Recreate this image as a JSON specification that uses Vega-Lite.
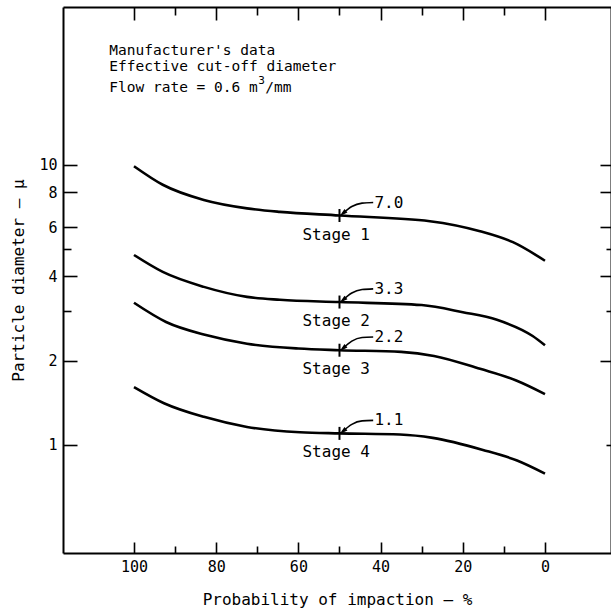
{
  "$schema": "https://vega.github.io/schema/vega-lite/v6.json",
  "width": 548,
  "height": 546,
  "autosize": {"type": "none"},
  "padding": {"left": 63, "top": 7, "right": 0, "bottom": 57},
  "background": "white",
  "config": {
    "view": {"stroke": null},
    "font": "DejaVu Sans Mono",
    "axis": {
      "grid": false,
      "domainColor": "#000",
      "tickColor": "#000",
      "labelColor": "#000",
      "titleColor": "#000",
      "labelFont": "DejaVu Sans Mono",
      "titleFont": "DejaVu Sans Mono",
      "labelFontSize": 15,
      "titleFontSize": 16,
      "titleFontWeight": "normal",
      "domainWidth": 2,
      "tickWidth": 1.6
    }
  },
  "datasets": {
    "curves": [
      {"stage": "Stage 1", "p": 100, "v": 9.9},
      {"stage": "Stage 1", "p": 93, "v": 8.5},
      {"stage": "Stage 1", "p": 83, "v": 7.5},
      {"stage": "Stage 1", "p": 72.5, "v": 7.0},
      {"stage": "Stage 1", "p": 64.5, "v": 6.8},
      {"stage": "Stage 1", "p": 50, "v": 6.6},
      {"stage": "Stage 1", "p": 28, "v": 6.3},
      {"stage": "Stage 1", "p": 15.8, "v": 5.8},
      {"stage": "Stage 1", "p": 7.8, "v": 5.3},
      {"stage": "Stage 1", "p": 0, "v": 4.55},
      {"stage": "Stage 2", "p": 100, "v": 4.77},
      {"stage": "Stage 2", "p": 93, "v": 4.15},
      {"stage": "Stage 2", "p": 83, "v": 3.67},
      {"stage": "Stage 2", "p": 72.5, "v": 3.38},
      {"stage": "Stage 2", "p": 64.5, "v": 3.3},
      {"stage": "Stage 2", "p": 50, "v": 3.24},
      {"stage": "Stage 2", "p": 30, "v": 3.16},
      {"stage": "Stage 2", "p": 20, "v": 2.98},
      {"stage": "Stage 2", "p": 11.7, "v": 2.8},
      {"stage": "Stage 2", "p": 3, "v": 2.45},
      {"stage": "Stage 2", "p": 0, "v": 2.27},
      {"stage": "Stage 3", "p": 100, "v": 3.22},
      {"stage": "Stage 3", "p": 92.2, "v": 2.75},
      {"stage": "Stage 3", "p": 82.5, "v": 2.47},
      {"stage": "Stage 3", "p": 72.5, "v": 2.3},
      {"stage": "Stage 3", "p": 60, "v": 2.21},
      {"stage": "Stage 3", "p": 50, "v": 2.18},
      {"stage": "Stage 3", "p": 35, "v": 2.15},
      {"stage": "Stage 3", "p": 27, "v": 2.08},
      {"stage": "Stage 3", "p": 15.8, "v": 1.87},
      {"stage": "Stage 3", "p": 7, "v": 1.7},
      {"stage": "Stage 3", "p": 0, "v": 1.52},
      {"stage": "Stage 4", "p": 100, "v": 1.61},
      {"stage": "Stage 4", "p": 92.7, "v": 1.41},
      {"stage": "Stage 4", "p": 83, "v": 1.26},
      {"stage": "Stage 4", "p": 72.5, "v": 1.16},
      {"stage": "Stage 4", "p": 59.6, "v": 1.11},
      {"stage": "Stage 4", "p": 50, "v": 1.1},
      {"stage": "Stage 4", "p": 35.3, "v": 1.09},
      {"stage": "Stage 4", "p": 27.3, "v": 1.06},
      {"stage": "Stage 4", "p": 15.1, "v": 0.96},
      {"stage": "Stage 4", "p": 6.8, "v": 0.88},
      {"stage": "Stage 4", "p": 0, "v": 0.79}
    ],
    "stages": [
      {"stage": "Stage 1", "cut": "7.0", "p": 50, "v": 6.6},
      {"stage": "Stage 2", "cut": "3.3", "p": 50, "v": 3.24},
      {"stage": "Stage 3", "cut": "2.2", "p": 50, "v": 2.18},
      {"stage": "Stage 4", "cut": "1.1", "p": 50, "v": 1.1}
    ],
    "arrows": [
      {"stage": "Stage 1", "seg": 1, "p": 41.8, "v": 7.35},
      {"stage": "Stage 1", "seg": 2, "p": 44.5, "v": 7.31},
      {"stage": "Stage 1", "seg": 3, "p": 47, "v": 7.11},
      {"stage": "Stage 1", "seg": 4, "p": 49.2, "v": 6.71},
      {"stage": "Stage 2", "seg": 1, "p": 41.8, "v": 3.61},
      {"stage": "Stage 2", "seg": 2, "p": 44.5, "v": 3.59},
      {"stage": "Stage 2", "seg": 3, "p": 47, "v": 3.49},
      {"stage": "Stage 2", "seg": 4, "p": 49.2, "v": 3.29},
      {"stage": "Stage 3", "seg": 1, "p": 41.8, "v": 2.43},
      {"stage": "Stage 3", "seg": 2, "p": 44.5, "v": 2.42},
      {"stage": "Stage 3", "seg": 3, "p": 47, "v": 2.35},
      {"stage": "Stage 3", "seg": 4, "p": 49.2, "v": 2.21},
      {"stage": "Stage 4", "seg": 1, "p": 41.8, "v": 1.224},
      {"stage": "Stage 4", "seg": 2, "p": 44.5, "v": 1.219},
      {"stage": "Stage 4", "seg": 3, "p": 47, "v": 1.185},
      {"stage": "Stage 4", "seg": 4, "p": 49.2, "v": 1.118}
    ],
    "notes": [
      {"p": 106, "v": 25.5, "text": "Manufacturer's data"},
      {"p": 106, "v": 22.4, "text": "Effective cut-off diameter"}
    ],
    "flow": [
      {"p": 106, "v": 18.8}
    ]
  },
  "layer": [
    {
      "data": {"name": "curves"},
      "mark": {"type": "line", "interpolate": "monotone", "color": "#000", "strokeWidth": 2.6},
      "encoding": {
        "x": {"field": "p", "type": "quantitative",
          "scale": {"domain": [-16.06, 117.27], "reverse": true, "nice": false, "zero": false},
          "axis": {"orient": "bottom", "values": [0, 20, 40, 60, 80, 100], "ticks": false, "labelPadding": 6, "labelFlush": false,
            "title": "Probability of impaction — %", "titlePadding": 17}},
        "y": {"field": "v", "type": "quantitative",
          "scale": {"type": "log", "domain": [0.4113, 36.67], "nice": false},
          "axis": {"orient": "left", "values": [1, 2, 4, 6, 8, 10], "ticks": false, "labelPadding": 6, "labelExpr": "'' + datum.value", "labelFlush": false,
            "title": "Particle diameter — μ", "titlePadding": 12}},
        "detail": {"field": "stage"},
        "order": {"field": "p", "sort": "descending"}
      }
    },
    {
      "data": {"name": "curves"},
      "mark": {"type": "point", "opacity": 0},
      "encoding": {
        "x": {"field": "p", "type": "quantitative",
          "scale": {"domain": [-16.06, 117.27], "reverse": true, "nice": false, "zero": false},
          "axis": {"orient": "bottom", "values": [0, 20, 40, 60, 80, 100], "labels": false, "domain": false, "tickSize": -11, "title": null}},
        "y": {"field": "v", "type": "quantitative",
          "scale": {"type": "log", "domain": [0.4113, 36.67], "nice": false},
          "axis": {"orient": "left", "values": [1, 2, 4, 6, 8, 10], "labels": false, "domain": false, "tickSize": -14, "title": null}}
      }
    },
    {
      "data": {"name": "curves"},
      "mark": {"type": "point", "opacity": 0},
      "encoding": {
        "x": {"field": "p", "type": "quantitative",
          "scale": {"domain": [-16.06, 117.27], "reverse": true, "nice": false, "zero": false},
          "axis": {"orient": "bottom", "values": [10, 30, 50, 70, 90], "labels": false, "domain": false, "tickSize": -7, "title": null}},
        "y": {"field": "v", "type": "quantitative",
          "scale": {"type": "log", "domain": [0.4113, 36.67], "nice": false},
          "axis": {"orient": "left", "values": [3, 5], "labels": false, "domain": false, "tickSize": -8, "title": null}}
      }
    },
    {
      "data": {"name": "curves"},
      "mark": {"type": "point", "opacity": 0},
      "encoding": {
        "x": {"field": "p", "type": "quantitative",
          "scale": {"domain": [-16.06, 117.27], "reverse": true, "nice": false, "zero": false},
          "axis": {"orient": "top", "values": [0, 20, 40, 60, 80, 100], "labels": false, "domain": true, "tickSize": -13, "title": null}},
        "y": {"field": "v", "type": "quantitative",
          "scale": {"type": "log", "domain": [0.4113, 36.67], "nice": false},
          "axis": {"orient": "right", "values": [2, 4, 6, 8, 10], "labels": false, "domain": true, "tickSize": -11, "title": null}}
      }
    },
    {
      "data": {"name": "curves"},
      "mark": {"type": "point", "opacity": 0},
      "encoding": {
        "x": {"field": "p", "type": "quantitative",
          "scale": {"domain": [-16.06, 117.27], "reverse": true, "nice": false, "zero": false},
          "axis": {"orient": "top", "values": [10, 30, 50, 70, 90], "labels": false, "domain": false, "tickSize": -8, "title": null}},
        "y": {"field": "v", "type": "quantitative",
          "scale": {"type": "log", "domain": [0.4113, 36.67], "nice": false},
          "axis": {"orient": "right", "values": [1, 3, 5], "labels": false, "domain": false, "tickSize": -5, "title": null}}
      }
    },
    {
      "data": {"name": "stages"},
      "mark": {"type": "tick", "orient": "vertical", "size": 13, "thickness": 2, "color": "#000", "opacity": 1},
      "encoding": {
        "x": {"field": "p", "type": "quantitative", "axis": null},
        "y": {"field": "v", "type": "quantitative", "axis": null}
      }
    },
    {
      "data": {"name": "stages"},
      "mark": {"type": "text", "align": "left", "baseline": "middle", "dx": -37, "dy": 19, "fontSize": 16, "font": "DejaVu Sans Mono", "color": "#000"},
      "encoding": {
        "x": {"field": "p", "type": "quantitative", "axis": null},
        "y": {"field": "v", "type": "quantitative", "axis": null},
        "text": {"field": "stage"}
      }
    },
    {
      "data": {"name": "stages"},
      "mark": {"type": "text", "align": "left", "baseline": "middle", "dx": 35, "dy": -13, "fontSize": 16, "font": "DejaVu Sans Mono", "color": "#000"},
      "encoding": {
        "x": {"field": "p", "type": "quantitative", "axis": null},
        "y": {"field": "v", "type": "quantitative", "axis": null},
        "text": {"field": "cut"}
      }
    },
    {
      "data": {"name": "arrows"},
      "mark": {"type": "line", "interpolate": "monotone", "color": "#000", "strokeWidth": 1.6},
      "encoding": {
        "x": {"field": "p", "type": "quantitative", "axis": null},
        "y": {"field": "v", "type": "quantitative", "axis": null},
        "detail": {"field": "stage"},
        "order": {"field": "seg"}
      }
    },
    {
      "data": {"name": "arrows"},
      "transform": [{"filter": "datum.seg == 4"}],
      "mark": {"type": "point", "shape": "M0,-1L0.55,1L-0.55,1Z", "filled": true, "color": "#000", "opacity": 1, "size": 70, "angle": 230},
      "encoding": {
        "x": {"field": "p", "type": "quantitative", "axis": null},
        "y": {"field": "v", "type": "quantitative", "axis": null}
      }
    },
    {
      "data": {"name": "notes"},
      "mark": {"type": "text", "align": "left", "baseline": "middle", "fontSize": 14.5, "font": "DejaVu Sans Mono", "color": "#000"},
      "encoding": {
        "x": {"field": "p", "type": "quantitative", "axis": null},
        "y": {"field": "v", "type": "quantitative", "axis": null},
        "text": {"field": "text"}
      }
    },
    {
      "data": {"name": "flow"},
      "mark": {"type": "text", "align": "left", "baseline": "middle", "fontSize": 14.5, "font": "DejaVu Sans Mono", "color": "#000", "text": "Flow rate = 0.6 m"},
      "encoding": {
        "x": {"field": "p", "type": "quantitative", "axis": null},
        "y": {"field": "v", "type": "quantitative", "axis": null}
      }
    },
    {
      "data": {"name": "flow"},
      "mark": {"type": "text", "align": "left", "baseline": "middle", "dx": 149, "dy": -7, "fontSize": 11, "font": "DejaVu Sans Mono", "color": "#000", "text": "3"},
      "encoding": {
        "x": {"field": "p", "type": "quantitative", "axis": null},
        "y": {"field": "v", "type": "quantitative", "axis": null}
      }
    },
    {
      "data": {"name": "flow"},
      "mark": {"type": "text", "align": "left", "baseline": "middle", "dx": 156, "fontSize": 14.5, "font": "DejaVu Sans Mono", "color": "#000", "text": "/mm"},
      "encoding": {
        "x": {"field": "p", "type": "quantitative", "axis": null},
        "y": {"field": "v", "type": "quantitative", "axis": null}
      }
    }
  ],
  "resolve": {"axis": {"x": "independent", "y": "independent"}}
}
